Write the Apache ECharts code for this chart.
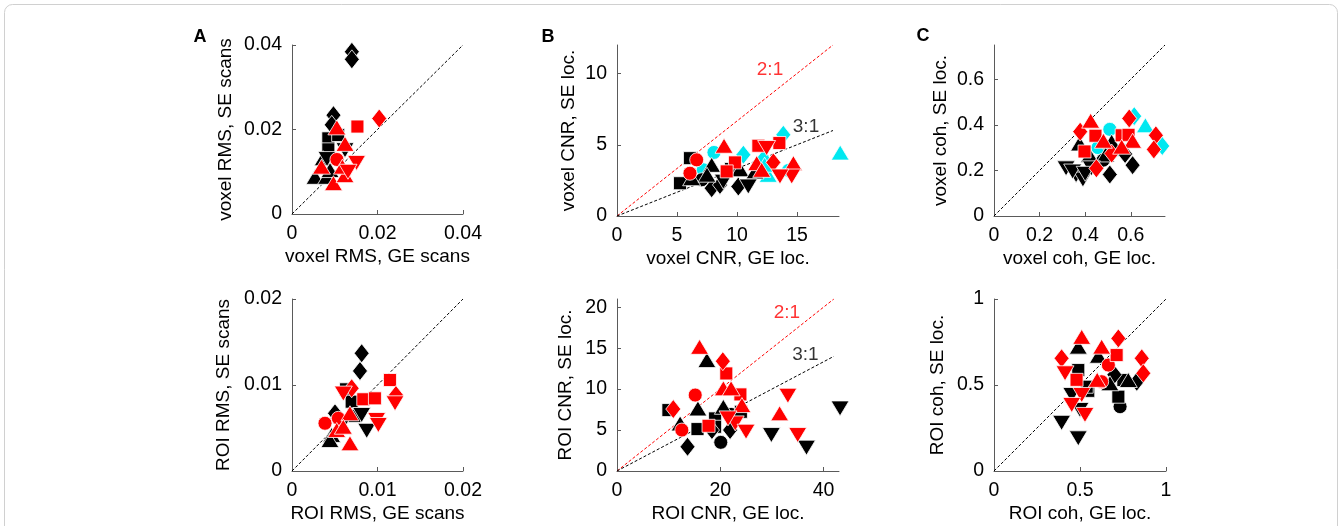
<!DOCTYPE html>
<html>
<head>
<meta charset="utf-8">
<script src="https://cdn.jsdelivr.net/npm/echarts@6/dist/echarts.min.js"></script>
<style>
html,body{margin:0;padding:0;background:#fff;}
#chart{width:1342px;height:526px;}
</style>
</head>
<body>
<div id="chart"></div>
<script>
// ---------- DATA: [x, y, shape]  shape: o circle, s square, d diamond, ^ triangle up, v triangle down
const A1_black = [[0.0140,0.0384,'d'],[0.0140,0.0366,'d'],[0.0097,0.0234,'d'],[0.0093,0.0211,'d'],
  [0.0085,0.0179,'s'],[0.0085,0.0153,'s'],[0.0108,0.0187,'s'],[0.0124,0.0151,'v'],[0.0082,0.0130,'v'],
  [0.0054,0.0088,'^'],[0.0081,0.0088,'^'],[0.0073,0.0132,'^'],[0.0089,0.0104,'^']];
const A1_red = [[0.0153,0.0207,'s'],[0.0204,0.0226,'d'],[0.0105,0.0205,'^'],[0.0124,0.0166,'^'],[0.0105,0.0129,'o'],
  [0.0069,0.0112,'^'],[0.0097,0.0073,'^'],[0.0124,0.0092,'^'],[0.0118,0.0112,'^'],[0.0151,0.0121,'v'],[0.0131,0.0100,'v']];

const B1_black = [[6.08,4.06,'s'],[5.25,2.30,'s'],[6.22,2.65,'^'],[7.89,3.59,'^'],[7.06,2.54,'o'],[7.89,1.95,'d'],
  [8.58,2.18,'d'],[8.86,2.41,'v'],[10.25,3.28,'^'],[10.11,2.07,'d'],[10.94,2.07,'v'],[11.5,3.13,'^'],[7.5,2.9,'^'],[9.5,3.3,'s']];
const B1_red = [[8.92,4.93,'^'],[6.64,3.94,'o'],[6.08,3.00,'o'],[9.83,3.76,'s'],[9.14,3.13,'s'],[11.78,4.93,'s'],
  [12.47,4.77,'v'],[13.53,5.12,'s'],[11.64,3.71,'^'],[13.03,3.76,'d'],[14.70,3.71,'^'],[14.56,2.77,'v'],[13.58,2.77,'v'],[12.06,3.24,'^']];
const B1_cyan = [[8.08,4.46,'o'],[7.19,3.24,'o'],[10.53,4.30,'d'],[13.86,5.70,'d'],[12.6,2.89,'^'],[18.6,4.45,'^'],
  [12.2,4.0,'d'],[14.3,3.2,'o'],[12.3,3.6,'^']];

const C1_black = [[0.316,0.209,'v'],[0.360,0.179,'v'],[0.390,0.160,'v'],[0.427,0.209,'v'],[0.345,0.195,'v'],[0.400,0.185,'v'],
  [0.375,0.318,'^'],[0.419,0.267,'^'],[0.516,0.326,'^'],[0.479,0.245,'o'],[0.508,0.182,'d'],[0.608,0.223,'d'],[0.575,0.272,'d'],[0.490,0.270,'^']];
const C1_red = [[0.424,0.418,'^'],[0.378,0.370,'d'],[0.445,0.352,'s'],[0.397,0.283,'s'],[0.449,0.209,'d'],[0.516,0.274,'d'],
  [0.560,0.354,'s'],[0.593,0.428,'d'],[0.590,0.356,'s'],[0.608,0.330,'^'],[0.710,0.354,'d'],[0.701,0.292,'d'],[0.560,0.304,'^'],[0.480,0.330,'^']];
const C1_cyan = [[0.615,0.438,'d'],[0.664,0.398,'^'],[0.738,0.307,'d'],[0.508,0.380,'o'],[0.456,0.300,'o'],[0.557,0.289,'s']];

const A2_black = [[0.00815,0.01369,'d'],[0.00795,0.01163,'d'],[0.00632,0.0095,'s'],[0.00698,0.00806,'s'],[0.00874,0.00467,'v'],
  [0.00503,0.00671,'d'],[0.00464,0.00419,'^'],[0.00444,0.0036,'^'],[0.00581,0.00535,'v'],[0.00815,0.00651,'v'],[0.0073,0.0064,'s']];
const A2_red = [[0.00698,0.00962,'d'],[0.0060,0.0090,'v'],[0.00834,0.00834,'s'],[0.0097,0.00845,'s'],[0.01146,0.01058,'s'],
  [0.01216,0.00884,'d'],[0.01205,0.00787,'v'],[0.0099,0.00593,'v'],[0.0101,0.00535,'v'],[0.00386,0.00555,'o'],[0.00542,0.00613,'o'],
  [0.00678,0.00671,'^'],[0.00678,0.00322,'^'],[0.00523,0.00477,'^'],[0.0060,0.00515,'^']];

const B2_black = [[17.41,13.54,'^'],[9.96,7.44,'s'],[15.67,7.64,'^'],[12.23,5.81,'^'],[15.59,5.12,'s'],[19.0,6.42,'s'],[19.0,5.40,'s'],
  [18.39,5.0,'d'],[20.6,7.84,'^'],[22.1,6.91,'o'],[24.0,7.23,'s'],[21.9,5.0,'d'],[20.1,3.5,'o'],[13.66,2.96,'d'],
  [29.9,4.39,'v'],[36.7,2.85,'v'],[43.2,7.64,'v']];
const B2_red = [[15.99,15.16,'^'],[20.5,13.41,'d'],[21.17,11.91,'s'],[20.6,10.09,'^'],[22.1,10.09,'^'],[23.9,9.35,'s'],[15.15,9.27,'o'],
  [10.9,7.56,'d'],[12.56,5.0,'o'],[17.73,5.52,'s'],[24.2,8.05,'^'],[22.9,5.81,'v'],[25.0,4.80,'v'],[21.5,6.42,'v'],
  [31.5,7.04,'^'],[33.1,9.19,'v'],[35.0,4.39,'v']];

const C2_black = [[0.49,0.723,'^'],[0.607,0.67,'^'],[0.49,0.587,'s'],[0.548,0.466,'s'],[0.539,0.49,'s'],[0.452,0.442,'v'],
  [0.393,0.28,'v'],[0.49,0.19,'v'],[0.50,0.355,'v'],[0.674,0.51,'^'],[0.752,0.529,'s'],[0.781,0.529,'^'],[0.83,0.519,'d'],
  [0.723,0.432,'s'],[0.733,0.374,'o'],[0.70,0.56,'d']];
const C2_red = [[0.393,0.655,'d'],[0.51,0.78,'^'],[0.626,0.723,'^'],[0.723,0.771,'d'],[0.713,0.674,'s'],[0.665,0.616,'o'],
  [0.859,0.655,'d'],[0.868,0.568,'d'],[0.626,0.519,'o'],[0.48,0.53,'s'],[0.413,0.568,'v'],[0.51,0.442,'v'],[0.452,0.384,'v'],
  [0.529,0.326,'v'],[0.60,0.53,'^']];

// reference lines
const unityA1 = [[0,0],[0.04,0.04]];
const unityC1 = [[0,0],[0.75,0.75]];
const unityA2 = [[0,0],[0.02,0.02]];
const unityC2 = [[0,0],[1,1]];
const ratio2B1 = [[0,0],[18,12]];
const ratio3B1 = [[0,0],[18,6]];
const ratio2B2 = [[0,0],[42,21]];
const ratio3B2 = [[0,0],[42,14]];
const ratioLabelsB1 = [[12.75,10.25,'2:1'],[15.75,6.23,'3:1']];
const ratioLabelsB2 = [[32.9,19.3,'2:1'],[36.5,14.2,'3:1']];

// axes
const axisMax = [[0.04,0.04],[18.5,12],[0.75,0.75],[0.02,0.02],[43,21],[1,1]];
const xTicks = [[0,0.02,0.04],[0,5,10,15],[0,0.2,0.4,0.6],[0,0.01,0.02],[0,20,40],[0,0.5,1]];
const yTicks = [[0,0.02,0.04],[0,5,10],[0,0.2,0.4,0.6],[0,0.01,0.02],[0,5,10,15,20],[0,0.5,1]];
const xNames = ['voxel RMS, GE scans','voxel CNR, GE loc.','voxel coh, GE loc.','ROI RMS, GE scans','ROI CNR, GE loc.','ROI coh, GE loc.'];
const yNames = ['voxel RMS, SE scans','voxel CNR, SE loc.','voxel coh, SE loc.','ROI RMS, SE scans','ROI CNR, SE loc.','ROI coh, SE loc.'];
const panelLetters = ['A','B','C'];

// ---------- LAYOUT
const gridBoxes = [
  {left:292, top:45, width:171, height:169},
  {left:617, top:45, width:222, height:171},
  {left:994, top:45, width:171, height:171},
  {left:292, top:299, width:171, height:172},
  {left:617, top:299, width:222, height:172},
  {left:994, top:299, width:172, height:172}
];
const yNameGaps = [57,39,44,59,42,47];
const FONT = 'Liberation Sans, Arial, sans-serif';
const AXC = '#5a5a5a';

const shapeSpec = {
  'o': {symbol:'circle', size:14, rot:0},
  's': {symbol:'rect', size:13, rot:0},
  'd': {symbol:'diamond', size:[15,19], rot:0},
  '^': {symbol:'triangle', size:[18,15], rot:0},
  'v': {symbol:'triangle', size:[18,15], rot:180}
};
const colors = {black:'#000000', red:'#ff0000', cyan:'#00e8f0'};

const series = [];
function addPoints(idx, arr, colorName){
  ['o','s','d','^','v'].forEach(code=>{
    const pts = arr.filter(p=>p[2]===code).map(p=>[p[0],p[1]]);
    if(!pts.length) return;
    const sp = shapeSpec[code];
    series.push({
      type:'scatter', xAxisIndex:idx, yAxisIndex:idx, data:pts,
      symbol:sp.symbol, symbolSize:sp.size, symbolRotate:sp.rot, clip:false,
      itemStyle:{color:colors[colorName], borderColor:'#ffffff', borderWidth:0.8, opacity:1},
      emphasis:{disabled:true}, silent:true, z:3
    });
  });
}
function addLine(idx, data, color){
  series.push({type:'line', xAxisIndex:idx, yAxisIndex:idx, data:data, symbol:'none', silent:true,
    lineStyle:{color:color, width:1, type:[3,2]}, z:2, animation:false});
}
function addLabels(idx, arr){
  arr.forEach(l=>{
    series.push({type:'scatter', xAxisIndex:idx, yAxisIndex:idx, data:[[l[0],l[1]]], symbolSize:0, silent:true, z:4,
      label:{show:true, position:'inside', formatter:l[2], fontFamily:FONT, fontSize:19,
        color: l[2]==='2:1' ? '#ff0000' : '#000000'}});
  });
}

addLine(0, unityA1, '#000'); addLine(2, unityC1, '#000'); addLine(3, unityA2, '#000'); addLine(5, unityC2, '#000');
addLine(1, ratio2B1, '#ff0000'); addLine(1, ratio3B1, '#000'); addLine(4, ratio2B2, '#ff0000'); addLine(4, ratio3B2, '#000');

addPoints(0, A1_black, 'black'); addPoints(0, A1_red, 'red');
addPoints(1, B1_cyan, 'cyan'); addPoints(1, B1_black, 'black'); addPoints(1, B1_red, 'red');
addPoints(2, C1_cyan, 'cyan'); addPoints(2, C1_black, 'black'); addPoints(2, C1_red, 'red');
addPoints(3, A2_black, 'black'); addPoints(3, A2_red, 'red');
addPoints(4, B2_black, 'black'); addPoints(4, B2_red, 'red');
addPoints(5, C2_black, 'black'); addPoints(5, C2_red, 'red');
addLabels(1, ratioLabelsB1); addLabels(4, ratioLabelsB2);

const xAxes = gridBoxes.map((g,i)=>({
  type:'value', gridIndex:i, min:0, max:axisMax[i][0],
  name:xNames[i], nameLocation:'middle', nameGap:33,
  nameTextStyle:{fontFamily:FONT, fontSize:19, color:'#000'},
  axisLine:{show:true, lineStyle:{color:AXC, width:1}},
  axisTick:{show:true, inside:true, length:4, lineStyle:{color:AXC}, customValues:xTicks[i]},
  axisLabel:{show:true, margin:10, fontFamily:FONT, fontSize:19.5, color:'#000', customValues:xTicks[i],
    formatter:v=>String(v)},
  splitLine:{show:false}
}));
const yAxes = gridBoxes.map((g,i)=>({
  type:'value', gridIndex:i, min:0, max:axisMax[i][1],
  name:yNames[i], nameLocation:'middle', nameGap:yNameGaps[i],
  nameTextStyle:{fontFamily:FONT, fontSize:19, color:'#000'},
  axisLine:{show:true, lineStyle:{color:AXC, width:1}},
  axisTick:{show:true, inside:true, length:4, lineStyle:{color:AXC}, customValues:yTicks[i]},
  axisLabel:{show:true, margin:10, fontFamily:FONT, fontSize:19.5, color:'#000', customValues:yTicks[i],
    formatter:v=>String(v)},
  splitLine:{show:false}
}));

const letterPos = [[200,37],[548,37],[923,36]];
const graphics = panelLetters.map((t,i)=>({
  type:'text', x:letterPos[i][0], y:letterPos[i][1],
  style:{text:t, fontFamily:FONT, fontSize:18, fontWeight:'bold', fill:'#000', textAlign:'center', textVerticalAlign:'middle'}
}));
graphics.push({type:'rect', shape:{x:4.5,y:4.5,width:1333,height:560,r:8}, style:{fill:'none', stroke:'#d0d0d0', lineWidth:1}, silent:true});

const chart = echarts.init(document.getElementById('chart'), null, {renderer:'canvas'});
chart.setOption({
  animation:false,
  backgroundColor:'#ffffff',
  grid: gridBoxes,
  xAxis: xAxes,
  yAxis: yAxes,
  series: series,
  graphic: graphics
});
</script>
</body>
</html>
